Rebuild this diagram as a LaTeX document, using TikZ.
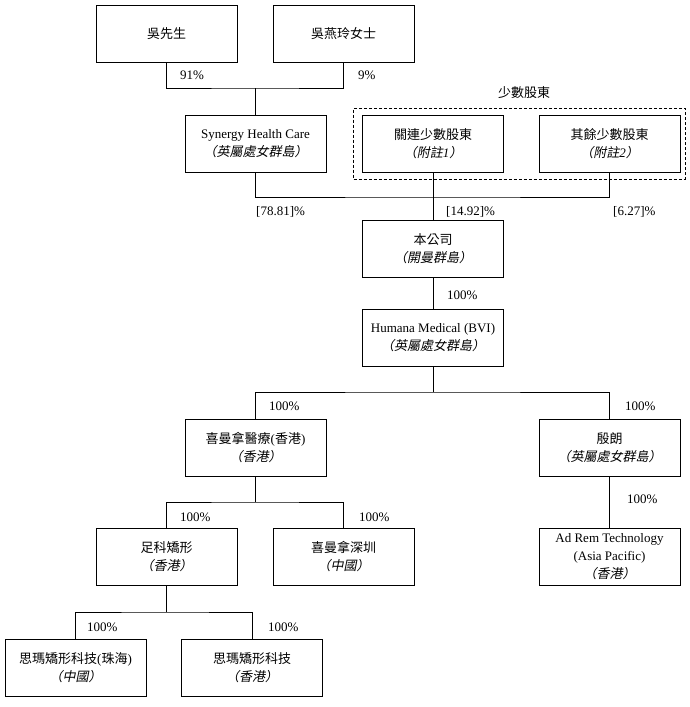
\documentclass[tikz,border=0pt]{standalone}
\usepackage{fontspec}
\setmainfont{Liberation Serif}
\newfontfamily\cjk{Noto Sans CJK TC}
\newfontfamily\cjkit{Noto Sans CJK TC}[FakeSlant=0.2]
\newcommand{\chn}[1]{{\cjk #1}}
\newcommand{\chnit}[1]{{\cjkit #1}}
\usepackage{tikz}
\usetikzlibrary{positioning, fit}

\begin{document}
\begin{tikzpicture}[
    x=1pt, y=-1pt,
    box/.style={rectangle, draw=black, fill=white, minimum width=141pt, minimum height=57pt, align=center, inner sep=2pt, line width=0.8pt, font=\fontsize{13}{18}\selectfont},
    pct/.style={anchor=west, inner sep=0pt, font=\fontsize{13}{15}\selectfont},
    dash_box/.style={draw=black, dash pattern=on 3pt off 2pt, line width=0.8pt, inner xsep=6.5pt, inner ysep=6.5pt},
    line_style/.style={draw=black, line width=0.8pt}
]
\useasboundingbox (0,0) rectangle (689,707);

% Top shareholders
\node[box] (wu) at (166.5,34) {\chn{吳先生}};
\node[box] (wuyan) at (343.5,34) {\chn{吳燕玲女士}};

% Second row
\node[box] (syn) at (255.5,143.5) {Synergy Health Care\\\chnit{（英屬處女群島）}};
\node[box] (related) at (433,143.5) {\chn{關連少數股東}\\\chnit{（附註}\textit{1}\chnit{）}};
\node[box] (other) at (609.5,143.5) {\chn{其餘少數股東}\\\chnit{（附註}\textit{2}\chnit{）}};

% Minority shareholders group
\node[dash_box, fit=(related) (other), xshift=-2pt] (minority) {};
\node[font=\fontsize{13}{15}\selectfont] (minority_label) at (524,93) {\chn{少數股東}};

% Company and subsidiaries
\node[box] (company) at (433,249) {\chn{本公司}\\\chnit{（開曼群島）}};
\node[box] (humana) at (433,337.5) {Humana Medical (BVI)\\\chnit{（英屬處女群島）}};
\node[box] (hk) at (255.5,447.5) {\chn{喜曼拿醫療}(\chn{香港})\\\chnit{（香港）}};
\node[box] (yinlang) at (609.5,447.5) {\chn{殷朗}\\\chnit{（英屬處女群島）}};
\node[box] (foot) at (166.5,557) {\chn{足科矯形}\\\chnit{（香港）}};
\node[box] (sz) at (343.5,557) {\chn{喜曼拿深圳}\\\chnit{（中國）}};
\node[box] (adrem) at (609.5,557) {Ad Rem Technology\\(Asia Pacific)\\\chnit{（香港）}};
\node[box] (zh) at (75.5,668) {\chn{思瑪矯形科技}(\chn{珠海})\\\chnit{（中國）}};
\node[box] (smhk) at (252,668) {\chn{思瑪矯形科技}\\\chnit{（香港）}};

% Connecting lines
\coordinate (top_join) at (255.5,88);
\draw[line_style] (wu.south) |- (top_join) -| (wuyan.south);
\draw[line_style] (top_join) -- (syn.north);

\coordinate (mid_join) at (433,197);
\draw[line_style] (syn.south) |- (mid_join) -| (other.south);
\draw[line_style] (related.south) -- (company.north);

\draw[line_style] (company.south) -- (humana.north);

\coordinate (humana_join) at (433,392);
\draw[line_style] (humana.south) -- (humana_join);
\draw[line_style] (hk.north) |- (humana_join) -| (yinlang.north);

\coordinate (hk_join) at (255.5,502);
\draw[line_style] (hk.south) -- (hk_join);
\draw[line_style] (foot.north) |- (hk_join) -| (sz.north);

\draw[line_style] (yinlang.south) -- (adrem.north);

\coordinate (foot_join) at (166.5,612);
\draw[line_style] (foot.south) -- (foot_join);
\draw[line_style] (zh.north) |- (foot_join) -| (smhk.north);

% Percentages
\node[pct] (pct_wu) at (180,75) {91\%};
\node[pct] (pct_wuyan) at (358,75) {9\%};
\node[pct] (pct_syn) at (256,212) {[78.81]\%};
\node[pct] (pct_related) at (446,212) {[14.92]\%};
\node[pct] (pct_other) at (613,212) {[6.27]\%};
\node[pct] (pct_humana) at (447,295) {100\%};
\node[pct] (pct_hk) at (269,406) {100\%};
\node[pct] (pct_yinlang) at (625,406) {100\%};
\node[pct] (pct_adrem) at (627,499) {100\%};
\node[pct] (pct_foot) at (180,517) {100\%};
\node[pct] (pct_sz) at (359,517) {100\%};
\node[pct] (pct_zh) at (87,627) {100\%};
\node[pct] (pct_smhk) at (268,627) {100\%};

\end{tikzpicture}
\end{document}
